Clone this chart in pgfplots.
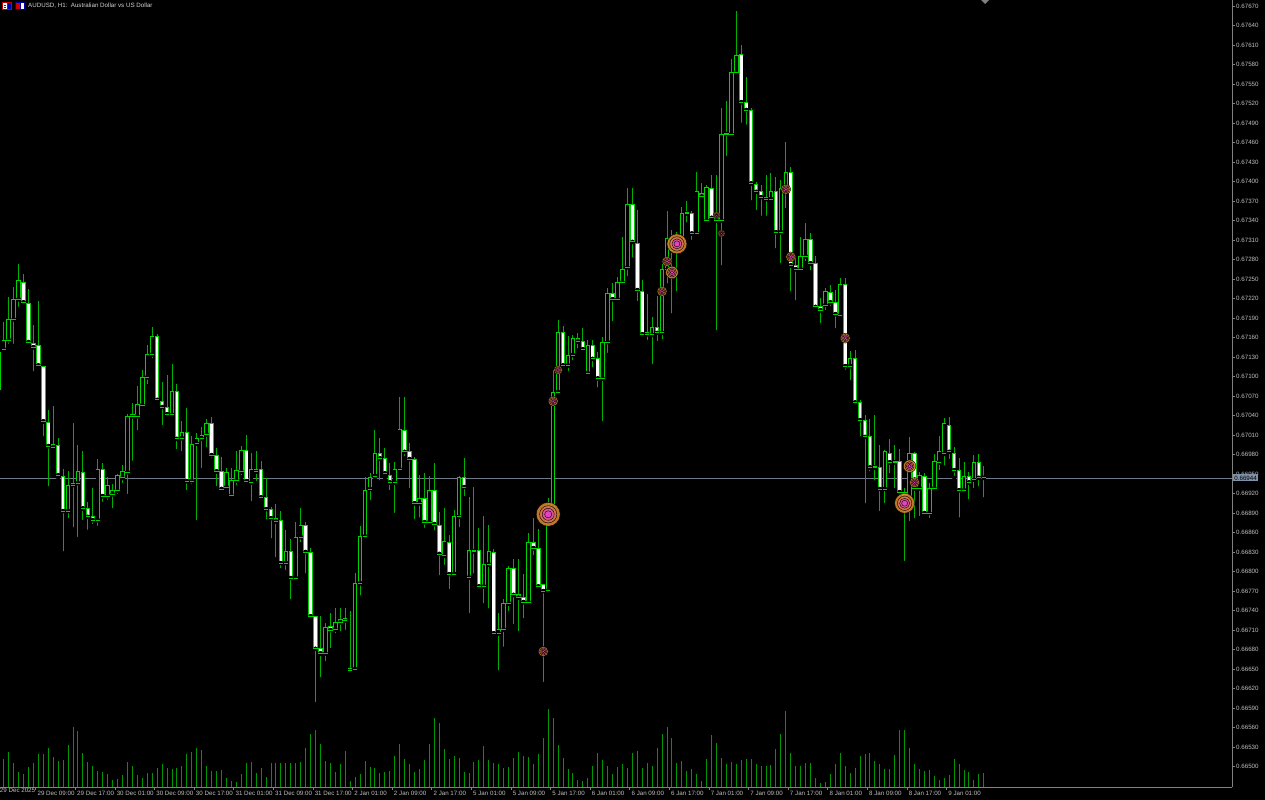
\documentclass[border=0pt]{standalone}
\usepackage{fontspec}
\setmainfont{Liberation Sans}
\usepackage{pgfplots}
\usepackage{pgfplotstable}
\pgfplotsset{compat=1.18}

\definecolor{wickgreen}{RGB}{0,176,0}
\definecolor{bodygreen}{RGB}{0,212,0}
\definecolor{volgreen}{RGB}{0,150,0}
\definecolor{axisgray}{RGB}{128,128,128}
\definecolor{labelgray}{RGB}{190,190,190}
\definecolor{titlegray}{RGB}{210,210,210}
\definecolor{priceline}{RGB}{112,122,136}
\definecolor{pricebox}{RGB}{128,146,170}
\definecolor{mkorange}{RGB}{214,132,46}
\definecolor{mkmid}{RGB}{226,104,110}
\definecolor{mkmagenta}{RGB}{226,66,200}

\newcommand{\mtfont}{\fontsize{6.2bp}{7bp}\selectfont}

% AUDUSD H1 candles: k = bar index, O H L C
\pgfplotstableread{
k O H L C
-1 0.67079 0.67148 0.67074 0.67137
0 0.67142 0.67184 0.67136 0.67156
1 0.67156 0.67222 0.67147 0.67188
2 0.67188 0.67237 0.67147 0.67219
3 0.67219 0.67273 0.67204 0.67248
4 0.67245 0.67257 0.67207 0.67214
5 0.67213 0.67234 0.67148 0.67153
6 0.67151 0.67179 0.67105 0.67145
7 0.67147 0.67216 0.67116 0.67117
8 0.67116 0.67116 0.67005 0.67031
9 0.67030 0.67048 0.66928 0.66993
10 0.66991 0.67054 0.66990 0.66996
11 0.66994 0.67005 0.66945 0.66948
12 0.66947 0.66957 0.66828 0.66893
13 0.66893 0.66954 0.66879 0.66933
14 0.66933 0.67028 0.66865 0.66936
15 0.66936 0.66994 0.66850 0.66954
16 0.66953 0.66985 0.66876 0.66897
17 0.66897 0.66907 0.66861 0.66884
18 0.66884 0.66928 0.66870 0.66879
19 0.66879 0.66973 0.66867 0.66957
20 0.66957 0.66967 0.66904 0.66916
21 0.66916 0.66945 0.66907 0.66933
22 0.66919 0.66934 0.66894 0.66925
23 0.66924 0.66950 0.66916 0.66948
24 0.66944 0.66964 0.66933 0.66954
25 0.66953 0.67042 0.66916 0.67039
26 0.67039 0.67059 0.66967 0.67041
27 0.67039 0.67085 0.67014 0.67057
28 0.67056 0.67110 0.67053 0.67099
29 0.67099 0.67148 0.67085 0.67134
30 0.67134 0.67176 0.67125 0.67162
31 0.67162 0.67165 0.67057 0.67064
32 0.67062 0.67091 0.67022 0.67053
33 0.67053 0.67102 0.67041 0.67042
34 0.67041 0.67119 0.67039 0.67077
35 0.67077 0.67088 0.66985 0.67004
36 0.67005 0.67031 0.66982 0.67014
37 0.67014 0.67051 0.66922 0.66939
38 0.66939 0.67008 0.66931 0.66996
39 0.66997 0.67013 0.66876 0.67004
40 0.67004 0.67022 0.66956 0.67010
41 0.67011 0.67034 0.66988 0.67028
42 0.67027 0.67037 0.66971 0.66979
43 0.66979 0.66990 0.66928 0.66954
44 0.66954 0.66976 0.66924 0.66927
45 0.66930 0.66960 0.66928 0.66953
46 0.66917 0.66960 0.66916 0.66940
47 0.66940 0.66985 0.66930 0.66956
48 0.66954 0.66993 0.66945 0.66987
49 0.66987 0.67010 0.66933 0.66939
50 0.66937 0.66982 0.66905 0.66957
51 0.66954 0.66985 0.66936 0.66957
52 0.66957 0.66970 0.66910 0.66914
53 0.66914 0.66944 0.66877 0.66896
54 0.66896 0.66899 0.66848 0.66882
55 0.66882 0.66904 0.66819 0.66877
56 0.66879 0.66893 0.66802 0.66813
57 0.66813 0.66864 0.66799 0.66831
58 0.66831 0.66850 0.66754 0.66790
59 0.66790 0.66876 0.66784 0.66853
60 0.66853 0.66897 0.66842 0.66871
61 0.66871 0.66876 0.66794 0.66830
62 0.66830 0.66836 0.66724 0.66731
63 0.66731 0.66731 0.66596 0.66681
64 0.66681 0.66731 0.66634 0.66674
65 0.66674 0.66721 0.66659 0.66714
66 0.66716 0.66736 0.66679 0.66710
67 0.66711 0.66744 0.66702 0.66722
68 0.66722 0.66744 0.66705 0.66727
69 0.66728 0.66744 0.66707 0.66725
70 0.66648 0.66739 0.66647 0.66651
71 0.66650 0.66797 0.66648 0.66782
72 0.66782 0.66870 0.66760 0.66854
73 0.66854 0.66945 0.66853 0.66925
74 0.66927 0.66951 0.66907 0.66945
75 0.66947 0.67017 0.66945 0.66982
76 0.66981 0.67005 0.66937 0.66974
77 0.66974 0.66990 0.66945 0.66951
78 0.66948 0.66967 0.66922 0.66937
79 0.66937 0.66968 0.66887 0.66957
80 0.66957 0.67068 0.66953 0.67019
81 0.67017 0.67068 0.66974 0.66984
82 0.66984 0.66997 0.66925 0.66973
83 0.66973 0.66976 0.66877 0.66905
84 0.66905 0.66948 0.66880 0.66913
85 0.66913 0.66951 0.66864 0.66876
86 0.66876 0.66947 0.66870 0.66925
87 0.66925 0.66967 0.66860 0.66873
88 0.66871 0.66891 0.66791 0.66827
89 0.66824 0.66897 0.66807 0.66847
90 0.66845 0.66856 0.66770 0.66796
91 0.66796 0.66894 0.66791 0.66884
92 0.66884 0.66947 0.66865 0.66944
93 0.66944 0.66974 0.66913 0.66930
94 0.66791 0.66914 0.66733 0.66833
95 0.66833 0.66930 0.66794 0.66831
96 0.66833 0.66867 0.66770 0.66777
97 0.66777 0.66885 0.66748 0.66811
98 0.66811 0.66871 0.66740 0.66831
99 0.66830 0.66834 0.66702 0.66705
100 0.66705 0.66736 0.66645 0.66711
101 0.66711 0.66757 0.66681 0.66751
102 0.66751 0.66808 0.66736 0.66804
103 0.66805 0.66820 0.66716 0.66764
104 0.66764 0.66819 0.66705 0.66760
105 0.66760 0.66796 0.66725 0.66753
106 0.66753 0.66859 0.66751 0.66845
107 0.66845 0.66882 0.66822 0.66836
108 0.66836 0.66865 0.66774 0.66777
109 0.66780 0.66780 0.66627 0.66770
110 0.66771 0.66913 0.66768 0.66887
111 0.66887 0.67110 0.66885 0.67076
112 0.67076 0.67187 0.67073 0.67167
113 0.67167 0.67177 0.67110 0.67117
114 0.67117 0.67162 0.67105 0.67133
115 0.67133 0.67164 0.67122 0.67159
116 0.67159 0.67167 0.67140 0.67154
117 0.67154 0.67174 0.67136 0.67142
118 0.67105 0.67156 0.67104 0.67148
119 0.67148 0.67156 0.67111 0.67127
120 0.67127 0.67137 0.67080 0.67097
121 0.67097 0.67160 0.67028 0.67153
122 0.67153 0.67236 0.67133 0.67227
123 0.67227 0.67244 0.67182 0.67219
124 0.67219 0.67253 0.67213 0.67245
125 0.67245 0.67314 0.67239 0.67265
126 0.67268 0.67390 0.67251 0.67364
127 0.67364 0.67390 0.67280 0.67307
128 0.67305 0.67356 0.67213 0.67233
129 0.67231 0.67248 0.67159 0.67165
130 0.67165 0.67227 0.67153 0.67167
131 0.67164 0.67191 0.67116 0.67176
132 0.67176 0.67224 0.67151 0.67167
133 0.67167 0.67273 0.67154 0.67265
134 0.67264 0.67354 0.67240 0.67313
135 0.67313 0.67325 0.67194 0.67294
136 0.67294 0.67322 0.67228 0.67302
137 0.67302 0.67360 0.67297 0.67351
138 0.67353 0.67370 0.67334 0.67351
139 0.67351 0.67354 0.67307 0.67320
140 0.67320 0.67414 0.67319 0.67384
141 0.67382 0.67397 0.67374 0.67377
142 0.67340 0.67394 0.67339 0.67391
143 0.67390 0.67410 0.67340 0.67344
144 0.67345 0.67410 0.67168 0.67340
145 0.67340 0.67513 0.67268 0.67473
146 0.67473 0.67524 0.67436 0.67474
147 0.67473 0.67588 0.67471 0.67567
148 0.67567 0.67662 0.67562 0.67594
149 0.67596 0.67610 0.67487 0.67522
150 0.67522 0.67560 0.67484 0.67510
151 0.67510 0.67513 0.67368 0.67397
152 0.67396 0.67399 0.67353 0.67384
153 0.67384 0.67394 0.67344 0.67376
154 0.67376 0.67410 0.67344 0.67373
155 0.67373 0.67413 0.67367 0.67384
156 0.67384 0.67407 0.67294 0.67322
157 0.67322 0.67402 0.67271 0.67390
158 0.67390 0.67460 0.67356 0.67414
159 0.67414 0.67422 0.67228 0.67271
160 0.67271 0.67284 0.67214 0.67265
161 0.67265 0.67314 0.67259 0.67285
162 0.67285 0.67336 0.67274 0.67311
163 0.67311 0.67321 0.67260 0.67274
164 0.67274 0.67285 0.67204 0.67207
165 0.67207 0.67220 0.67179 0.67202
166 0.67210 0.67236 0.67199 0.67231
167 0.67230 0.67241 0.67205 0.67214
168 0.67214 0.67233 0.67171 0.67196
169 0.67194 0.67251 0.67190 0.67241
170 0.67241 0.67251 0.67107 0.67116
171 0.67116 0.67139 0.67091 0.67127
172 0.67127 0.67141 0.67053 0.67060
173 0.67060 0.67064 0.67005 0.67033
174 0.67033 0.67041 0.66902 0.67007
175 0.67007 0.67034 0.66951 0.66960
176 0.66962 0.67041 0.66937 0.66960
177 0.66960 0.66994 0.66890 0.66927
178 0.66927 0.66987 0.66902 0.66984
179 0.66982 0.67004 0.66948 0.66968
180 0.66970 0.66994 0.66925 0.66968
181 0.66970 0.66988 0.66891 0.66922
182 0.66922 0.66928 0.66813 0.66914
183 0.66914 0.67007 0.66874 0.66981
184 0.66981 0.66984 0.66879 0.66928
185 0.66928 0.66953 0.66882 0.66948
186 0.66947 0.66951 0.66887 0.66890
187 0.66890 0.66936 0.66879 0.66928
188 0.66928 0.66981 0.66925 0.66970
189 0.66968 0.67008 0.66953 0.66985
190 0.66981 0.67036 0.66960 0.67027
191 0.67024 0.67037 0.66970 0.66984
192 0.66982 0.66991 0.66944 0.66956
193 0.66956 0.66974 0.66880 0.66925
194 0.66925 0.66968 0.66922 0.66947
195 0.66947 0.66953 0.66908 0.66937
196 0.66941 0.66979 0.66925 0.66968
197 0.66968 0.66981 0.66928 0.66944
198 0.66944 0.66962 0.66911 0.66945
}\candles

% tick volumes
\pgfplotstableread{
k v
-1 580
0 830
1 1060
2 730
3 450
4 380
5 600
6 720
7 980
8 1000
9 1180
10 900
11 780
12 800
13 1250
14 1800
15 1680
16 1010
17 750
18 620
19 480
20 460
21 390
22 210
23 230
24 360
25 750
26 620
27 360
28 280
29 430
30 430
31 580
32 680
33 560
34 550
35 560
36 630
37 980
38 1060
39 1160
40 1120
41 630
42 480
43 480
44 510
45 260
46 180
47 140
48 380
49 730
50 750
51 430
52 580
53 310
54 710
55 730
56 710
57 710
58 720
59 710
60 760
61 1180
62 1580
63 1710
64 1280
65 780
66 710
67 460
68 680
69 1080
70 180
71 310
72 380
73 780
74 600
75 580
76 430
77 460
78 480
79 930
80 1280
81 830
82 680
83 450
84 530
85 800
86 1280
87 2080
88 1930
89 1130
90 850
91 930
92 880
93 460
94 430
95 750
96 800
97 1220
98 800
99 730
100 700
101 580
102 600
103 880
104 1060
105 930
106 910
107 700
108 980
109 1480
110 2330
111 2060
112 1260
113 880
114 530
115 430
116 210
117 180
118 280
119 630
120 1030
121 810
122 630
123 380
124 610
125 680
126 580
127 1030
128 1080
129 580
130 730
131 630
132 1180
133 1580
134 1800
135 1480
136 730
137 780
138 480
139 530
140 380
141 180
142 830
143 1550
144 1330
145 880
146 680
147 750
148 700
149 800
150 830
151 830
152 680
153 630
154 630
155 660
156 1130
157 1580
158 2280
159 1030
160 630
161 630
162 710
163 730
164 280
165 130
166 160
167 380
168 680
169 1030
170 630
171 430
172 580
173 930
174 980
175 1030
176 780
177 680
178 530
179 530
180 950
181 1700
182 1700
183 1180
184 680
185 530
186 480
187 500
188 330
189 200
190 280
191 360
192 830
193 680
194 500
195 460
196 210
197 380
198 430
}\volumes

\newcommand{\signal}[2]{%
  \addplot[only marks, mark=*, mark size=#1bp, mark options={draw=none, fill=mkorange, fill opacity=0.9}, forget plot] coordinates {#2};
  \addplot[only marks, mark=*, mark size=0.72*#1bp, mark options={draw=none, fill=mkmid, fill opacity=0.45}, forget plot] coordinates {#2};
  \addplot[only marks, mark=*, mark size=0.5*#1bp, mark options={draw=none, fill=mkmagenta, fill opacity=0.6}, forget plot] coordinates {#2};
  \addplot[only marks, mark=*, mark size=0.3*#1bp, mark options={draw=none, fill=mkmagenta, fill opacity=0.9}, forget plot] coordinates {#2};
}

\begin{document}
\begin{tikzpicture}
\fill[black] (0,-13bp) rectangle (1265bp,787bp);
\path[use as bounding box] (0,-13bp) rectangle (1265bp,787bp);

% volumes
\begin{axis}[at={(0,0)}, anchor=south west, scale only axis,
  width=1232bp, height=787bp, hide axis,
  xmin=-0.75, xmax=248.14, ymin=0, ymax=23610]
\addplot[ycomb, volgreen, line width=1bp, mark=none] table[x=k, y=v]{\volumes};
\end{axis}

% candles
\begin{axis}[at={(0,0)}, anchor=south west, scale only axis,
  width=1232bp, height=787bp,
  xmin=-0.75, xmax=248.14, ymin=0.664685, ymax=0.676792,
  axis x line*=bottom, axis y line*=right,
  axis line style={axisgray, line width=0.8bp, -},
  tick align=outside, major tick length=3bp,
  tick style={axisgray, line width=0.8bp},
  scaled y ticks=false,
  ytick={0.665,0.6653,0.6656,0.6659,0.6662,0.6665,0.6668,0.6671,0.6674,0.6677,
         0.668,0.6683,0.6686,0.6689,0.6692,0.6695,0.6698,0.6701,0.6704,0.6707,
         0.671,0.6713,0.6716,0.6719,0.6722,0.6725,0.6728,0.6731,0.6734,0.6737,
         0.674,0.6743,0.6746,0.6749,0.6752,0.6755,0.6758,0.6761,0.6764,0.6767},
  yticklabel style={/pgf/number format/.cd, fixed, fixed zerofill, precision=5,
     assume math mode=true, /tikz/.cd, font=\mtfont, text=labelgray,
     anchor=west, inner sep=0pt, xshift=1bp},
  xtick={6.5,14.5,22.5,30.5,38.5,46.5,54.5,62.5,70.5,78.5,86.5,94.5,
         102.5,110.5,118.5,126.5,134.5,142.5,150.5,158.5,166.5,174.5,182.5,190.5},
  xticklabels={29 Dec 09:00,29 Dec 17:00,30 Dec 01:00,30 Dec 09:00,30 Dec 17:00,
     31 Dec 01:00,31 Dec 09:00,31 Dec 17:00,2 Jan 01:00,2 Jan 09:00,2 Jan 17:00,
     5 Jan 01:00,5 Jan 09:00,5 Jan 17:00,6 Jan 01:00,6 Jan 09:00,6 Jan 17:00,
     7 Jan 01:00,7 Jan 09:00,7 Jan 17:00,8 Jan 01:00,8 Jan 09:00,8 Jan 17:00,9 Jan 01:00},
  xticklabel style={font=\mtfont, text=labelgray, anchor=north west,
     inner sep=0pt, xshift=1.5bp, yshift=-0.5bp},
  x tick style={axisgray, line width=0.8bp},
  clip=true]

% current price line
\addplot[priceline, line width=0.8bp, forget plot] coordinates {(-0.75,0.66944) (248.14,0.66944)};

% wicks
\addplot[only marks, mark=none, forget plot,
  error bars/.cd, y dir=plus, y explicit, error mark=none,
  error bar style={draw=wickgreen, line width=1bp}]
  table[x=k, y=L, y error expr=\thisrow{H}-\thisrow{L}]{\candles};
% body outer
\addplot[only marks, mark=none, forget plot,
  error bars/.cd, y dir=plus, y explicit, error mark=none,
  error bar style={draw=bodygreen, line width=4.4bp}]
  table[x=k, y expr={min(\thisrow{O},\thisrow{C})}, y error expr={abs(\thisrow{C}-\thisrow{O})}]{\candles};
% bull inner (black)
\addplot[only marks, mark=none, forget plot,
  restrict expr to domain={\thisrow{C}-\thisrow{O}}{0:1},
  error bars/.cd, y dir=plus, y explicit, error mark=none,
  error bar style={draw=black, line width=2.6bp}]
  table[x=k, y expr={min(\thisrow{O},\thisrow{C})}, y error expr={abs(\thisrow{C}-\thisrow{O})}]{\candles};
% bear inner (white)
\addplot[only marks, mark=none, forget plot,
  restrict expr to domain={\thisrow{C}-\thisrow{O}}{-1:0},
  error bars/.cd, y dir=plus, y explicit, error mark=none,
  error bar style={draw=white, line width=2.6bp}]
  table[x=k, y expr={min(\thisrow{O},\thisrow{C})}, y error expr={abs(\thisrow{C}-\thisrow{O})}]{\candles};
% top and bottom edges of the bodies
\addplot[only marks, mark=-, mark size=2.2bp, mark options={draw=bodygreen, line width=0.9bp}, forget plot]
  table[x=k, y=O]{\candles};
\addplot[only marks, mark=-, mark size=2.2bp, mark options={draw=bodygreen, line width=0.9bp}, forget plot]
  table[x=k, y=C]{\candles};

% signal circles
\signal{12}{(110,0.66888)}
\signal{10}{(136,0.67304) (182,0.66905)}
\signal{6.3}{(183,0.66962) (135,0.67260)}
\signal{5}{(111,0.67062) (109,0.66677) (133,0.67231) (134,0.67277) (158,0.67388) (159,0.67284) (170,0.67159) (184,0.66937)}
\signal{4.3}{(112,0.67110)}
\signal{3.5}{(144,0.67348) (145,0.67320)}

\coordinate (pl) at (axis cs:248.14,0.66944);
\coordinate (firstlab) at (axis cs:-1.5,0.664685);
\end{axis}

% current price box
\node[fill=pricebox, text=black, font=\mtfont, inner xsep=1.2bp, inner ysep=1.3bp, anchor=west] at ([xshift=1bp]pl) {0.66944};
% first date label
\node[font=\mtfont, text=labelgray, anchor=north west, inner sep=0pt] at ([xshift=3.5bp,yshift=-0.5bp]firstlab) {29 Dec 2025};

% title with symbol icons
\fill[red!75!black] (2bp,777bp) rectangle (12bp,785bp);
\fill[white] (3bp,778bp) rectangle (6.5bp,784bp);
\fill[blue!70!black] (7.5bp,778bp) rectangle (11bp,784bp);
\fill[red!75!black] (3.5bp,779bp) rectangle (6bp,780bp);
\fill[red!75!black] (3.5bp,781bp) rectangle (6bp,782bp);
\fill[blue!65!black] (15bp,777bp) rectangle (25bp,785bp);
\fill[red!80!black] (16bp,778bp) rectangle (19.5bp,784bp);
\fill[white] (20.5bp,778bp) rectangle (24bp,784bp);
\node[font=\mtfont, text=titlegray, anchor=west, inner sep=0pt] at (28bp,781bp) {AUDUSD, H1:\ \ Australian Dollar vs US Dollar};

% chart shift marker
\fill[axisgray] (981bp,787bp) -- (989bp,787bp) -- (985bp,783bp) -- cycle;
\end{tikzpicture}
\end{document}
